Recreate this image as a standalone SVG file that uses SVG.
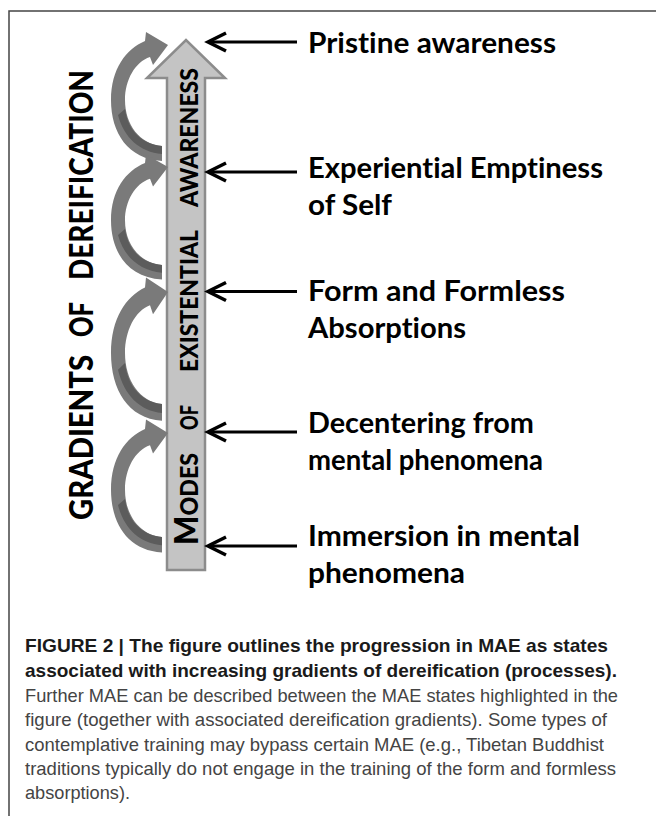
<svg xmlns="http://www.w3.org/2000/svg" xmlns:xlink="http://www.w3.org/1999/xlink" width="656" height="816" viewBox="0 0 656 816">
<defs>
<style>
text{font-variant-ligatures:none;font-feature-settings:"liga" 0,"clig" 0}
.frame{fill:none;stroke:#444;stroke-width:1.5}
.lbl{font-family:Lato,"Open Sans",sans-serif;font-weight:700;font-size:29px;fill:#000}
.vt{font-family:Lato,"Open Sans",sans-serif;font-weight:900;fill:#000}
.ptr{stroke:#000;stroke-width:3;fill:none}
.cap{font-family:"Liberation Sans",Arial,sans-serif;font-size:19px}
.capb{font-weight:700;fill:#1a1a1a}
.capn{font-weight:400;fill:#444}
</style>
<marker id="chev" viewBox="-22 -12 26 24" refX="0" refY="0" markerWidth="26" markerHeight="24" markerUnits="userSpaceOnUse" orient="auto">
<path d="M -18,-9 L 0,0 L -18,9" fill="none" stroke="#000" stroke-width="3.5" stroke-linejoin="miter"/>
</marker>
<g id="arc">
<path d="M 162,116 C 128,114 111,88 111,55 C 111,24 126,4 145,-4 L 146,-13 L 168,0 L 153,20 L 150,12 C 135,17 125,35 125,55 C 125,80 140,99 162,101 Z" fill="#7a7a7a"/>
<path d="M 125,64 C 128,86 142,99 162,101 L 162,109 C 140,107 124,93 118,70 Z" fill="#5c5c5c"/>
</g>
</defs>
<rect width="656" height="816" fill="#fff"/>
<path class="frame" d="M 9,816 V 11 H 656"/>

<g id="main-arrow">
<polygon points="167,570 205,570 205,78 225,78 186,40 147,78 167,78" fill="#c4c4c4" stroke="#8c8c8c" stroke-width="2.5"/>
<g transform="translate(197.5,545) rotate(-90)">
<text class="vt" x="0" y="0" font-size="24" textLength="92" lengthAdjust="spacingAndGlyphs"><tspan font-size="32">M</tspan>ODES</text>
<text class="vt" x="115" y="0" font-size="24" textLength="25" lengthAdjust="spacingAndGlyphs">OF</text>
<text class="vt" x="173" y="0" font-size="24" textLength="142" lengthAdjust="spacingAndGlyphs">EXISTENTIAL</text>
<text class="vt" x="338" y="0" font-size="24" textLength="139" lengthAdjust="spacingAndGlyphs">AWARENESS</text>
</g>
</g>

<g id="gradients-label" transform="translate(93,520) rotate(-90)">
<text class="vt" x="0" y="0" font-size="32" textLength="165" lengthAdjust="spacingAndGlyphs">GRADIENTS</text>
<text class="vt" x="183" y="0" font-size="32" textLength="35" lengthAdjust="spacingAndGlyphs">OF</text>
<text class="vt" x="240" y="0" font-size="32" textLength="210" lengthAdjust="spacingAndGlyphs">DEREIFICATION</text>
</g>

<g id="dereification-arcs">
<use xlink:href="#arc" href="#arc" transform="translate(0,45)"/>
<use xlink:href="#arc" href="#arc" transform="translate(0,167) scale(1,0.97)"/>
<use xlink:href="#arc" href="#arc" transform="translate(0,292) scale(1,1.11)"/>
<use xlink:href="#arc" href="#arc" transform="translate(0,433) scale(1,1.03)"/>
</g>

<g id="connectors">
<line class="ptr" x1="297" y1="42" x2="208" y2="42" marker-end="url(#chev)"/>
<line class="ptr" x1="297" y1="172" x2="208" y2="172" marker-end="url(#chev)"/>
<line class="ptr" x1="297" y1="291.5" x2="208" y2="291.5" marker-end="url(#chev)"/>
<line class="ptr" x1="297" y1="432" x2="208" y2="432" marker-end="url(#chev)"/>
<line class="ptr" x1="297" y1="546" x2="208" y2="546" marker-end="url(#chev)"/>
</g>

<g id="node-pristine">
<text class="lbl" x="308" y="53" textLength="248" lengthAdjust="spacingAndGlyphs">Pristine awareness</text>
</g>
<g id="node-emptiness">
<text class="lbl" x="308" y="178" textLength="295" lengthAdjust="spacingAndGlyphs">Experiential Emptiness</text>
<text class="lbl" x="308" y="215" textLength="84" lengthAdjust="spacingAndGlyphs">of Self</text>
</g>
<g id="node-absorptions">
<text class="lbl" x="308" y="301" textLength="257" lengthAdjust="spacingAndGlyphs">Form and Formless</text>
<text class="lbl" x="308" y="338" textLength="158" lengthAdjust="spacingAndGlyphs">Absorptions</text>
</g>
<g id="node-decentering">
<text class="lbl" x="308" y="433" textLength="226" lengthAdjust="spacingAndGlyphs">Decentering from</text>
<text class="lbl" x="308" y="470" textLength="235" lengthAdjust="spacingAndGlyphs">mental phenomena</text>
</g>
<g id="node-immersion">
<text class="lbl" x="308" y="546" textLength="272" lengthAdjust="spacingAndGlyphs">Immersion in mental</text>
<text class="lbl" x="308" y="583" textLength="157" lengthAdjust="spacingAndGlyphs">phenomena</text>
</g>

<g id="caption" class="cap">
<text class="capb" x="25" y="652" textLength="583" lengthAdjust="spacingAndGlyphs">FIGURE 2 | The figure outlines the progression in MAE as states</text>
<text class="capb" x="25" y="676.5" textLength="592" lengthAdjust="spacingAndGlyphs">associated with increasing gradients of dereification (processes).</text>
<text class="capn" x="25" y="701.5" textLength="593" lengthAdjust="spacingAndGlyphs">Further MAE can be described between the MAE states highlighted in the</text>
<text class="capn" x="25" y="726" textLength="582" lengthAdjust="spacingAndGlyphs">figure (together with associated dereification gradients). Some types of</text>
<text class="capn" x="25" y="750.5" textLength="579" lengthAdjust="spacingAndGlyphs">contemplative training may bypass certain MAE (e.g., Tibetan Buddhist</text>
<text class="capn" x="25" y="775" textLength="591" lengthAdjust="spacingAndGlyphs">traditions typically do not engage in the training of the form and formless</text>
<text class="capn" x="25" y="799" textLength="105" lengthAdjust="spacingAndGlyphs">absorptions).</text>
</g>
</svg>
